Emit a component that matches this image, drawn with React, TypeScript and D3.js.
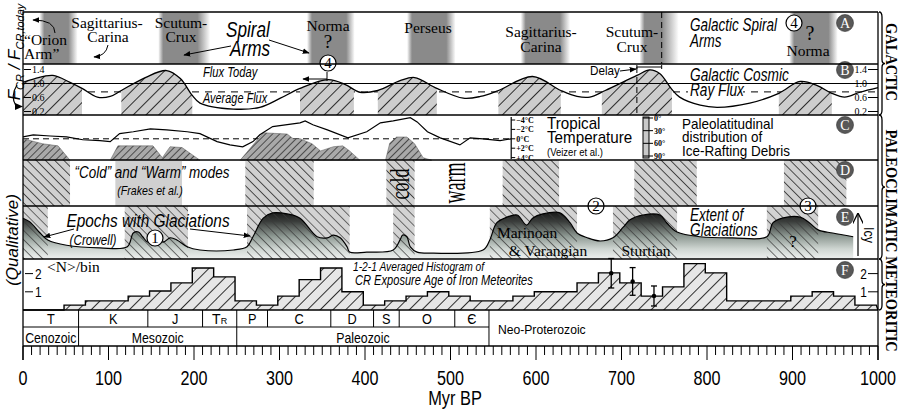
import React from 'react';
import * as d3 from 'd3';

const SANS = "'Liberation Sans', Arial, Helvetica, sans-serif";
const SERIF = "'Liberation Serif', 'Times New Roman', Times, serif";

// Spiral arm passages (Myr BP): dark core and fade-out edge
const armCoreStart = [25, 164, 338, 455, 588, 727, 902];
const armCoreEnd = [53, 204, 378, 495, 628, 747, 942];
const armFadeEnd = [64, 219, 388, 506, 640, 767, 953];

// Cosmic ray flux relative to today
const fluxAge = [0, 14, 35, 55, 69, 87, 102, 115, 143, 168, 184, 198, 207, 246, 277, 301, 324, 357, 377, 394, 415, 441, 458, 484, 515, 535, 556, 596, 629, 648, 663, 681, 718, 733, 745, 758, 768, 792, 812, 850, 884, 909, 929, 946, 961, 979, 1000];
const fluxValue = [1.03, 1.14, 1.23, 1.03, 0.86, 0.61, 0.63, 0.8, 1.17, 1.37, 1.14, 0.66, 0.44, 0.27, 0.32, 0.58, 0.86, 1.11, 0.97, 0.75, 0.8, 1.08, 1.17, 0.86, 0.58, 0.63, 0.8, 1.2, 0.8, 0.63, 0.61, 0.8, 1.23, 1.39, 1.28, 0.86, 0.61, 0.38, 0.32, 0.44, 0.72, 1.06, 0.94, 0.72, 0.61, 0.75, 0.88];
const fluxToday = 1.0;
const fluxAverage = 0.76;
const fluxTicks = [1.4, 1.0, 0.6, 0.2];
const highFluxStart = [0, 115, 324, 415, 556, 677, 884];
const highFluxEnd = [69, 198, 387, 484, 629, 759, 946];
const delayFrom = 718;
const delayTo = 747;

// Tropical temperature anomaly (deg C, positive = warmer)
const tempAge = [0, 12, 32, 51, 70, 90, 102, 113, 129, 149, 168, 192, 207, 227, 242, 257, 269, 277, 292, 309, 324, 330, 339, 356, 380, 402, 418, 433, 453, 461, 473, 488, 511, 523, 538, 558, 571];
const tempValue = [-0.4, -0.85, -0.6, -0.4, 0.2, 0.4, 0.6, -1.1, -1.5, -2.1, -1.9, -1.5, -1.1, 0.6, 1.3, 1.7, 0.6, -0.85, -2.6, -3.0, -3.4, -3.8, -3.0, -1.9, -0.2, -1.5, -3.4, -3.8, -4.5, -3.6, -1.5, -0.2, 1.3, -0.2, 0, 0.4, 0];
const tempTicks = [-4, -2, 0, 2, 4];

// Ice-rafted debris: outlines as [age, paleolatitude]; 100 = panel floor
const irdShapes: [number, number][][] = [
  [[0, 100], [0, 49], [23, 61], [41, 66], [55, 100]],
  [[102, 100], [111, 66], [152, 66], [163, 94], [172, 68], [186, 70], [207, 100]],
  [[254, 100], [281, 35], [309, 38], [316, 49], [324, 49], [338, 61], [348, 78], [363, 68], [374, 66], [382, 78], [394, 100]],
  [[424, 100], [429, 59], [437, 45], [449, 45], [458, 61], [468, 94], [478, 100]],
];
const latTicks = [0, 30, 60, 90];

// "Cold" climate modes (Frakes et al.)
const coldStart = [0, 260, 425, 561, 715, 890];
const coldEnd = [55, 340, 458, 627, 788, 963];
const coolStart = [108];
const coolEnd = [186];

// Epochs with glaciations (Crowell) and their extent
const glacStart = [0, 119, 262, 433, 546, 690, 870];
const glacEnd = [29, 193, 382, 458, 648, 765, 930];
const glacAge = [0, 8, 20, 29, 51, 90, 122, 129, 135, 140, 146, 152, 164, 172, 180, 192, 207, 246, 262, 269, 281, 292, 309, 324, 344, 356, 363, 371, 379, 382, 402, 433, 441, 444, 449, 453, 461, 480, 538, 546, 554, 566, 578, 589, 596, 608, 628, 640, 648, 660, 675, 690, 702, 710, 725, 745, 753, 765, 792, 830, 870, 877, 888, 909, 920, 930, 947, 971];
const glacExtent = [0.77, 0.7, 0.49, 0.36, 0.26, 0.21, 0.23, 0.49, 0.51, 0.42, 0.32, 0.42, 0.32, 0.4, 0.36, 0.23, 0.17, 0.17, 0.23, 0.42, 0.77, 0.87, 0.85, 0.77, 0.42, 0.4, 0.45, 0.4, 0.23, 0.13, 0.13, 0.17, 0.36, 0.45, 0.42, 0.23, 0.13, 0.11, 0.17, 0.36, 0.68, 0.79, 0.83, 0.64, 0.77, 0.85, 0.87, 0.68, 0.49, 0.4, 0.34, 0.4, 0.6, 0.74, 0.83, 0.83, 0.68, 0.51, 0.42, 0.4, 0.42, 0.68, 0.77, 0.79, 0.68, 0.55, 0.49, 0.42];

// 1-2-1 averaged histogram of iron meteorite exposure ages
const binWidth = 25;
const binStart = [-2, 23, 48, 73, 98, 123, 148, 173, 198, 223, 248, 273, 298, 323, 348, 373, 398, 423, 448, 473, 498, 523, 548, 573, 598, 623, 648, 673, 698, 723, 748, 773, 798, 823, 848, 873, 898, 923, 948, 973];
const binHeight = [0, 0, 0.27, 0.5, 0.5, 0.76, 1.04, 1.49, 2.31, 1.82, 0.5, 0.27, 0.76, 1.67, 2.31, 1.0, 0.27, 0.5, 0.76, 1.0, 0.76, 0.5, 0.5, 0.76, 1.0, 1.0, 1.49, 2.04, 1.49, 0.76, 1.27, 2.55, 2.04, 0.5, 0.5, 0.5, 0.76, 1.0, 0.76, 0.27];
const errAge = [688, 713, 738];
const errMid = [2.02, 1.57, 0.77];
const errHalf = [0.81, 0.76, 0.55];
const histTicks = [2, 1];

// Geologic time scale
const periodName = ['T', 'K', 'J', 'TR', 'P', 'C', 'D', 'S', 'O', '\u0404'];
const periodStart = [0, 65, 146, 210, 250, 286, 360, 410, 440, 505];
const periodEnd = [65, 146, 210, 250, 286, 360, 410, 440, 505, 545];
const eraName = ['Cenozoic', 'Mesozoic', 'Paleozoic'];
const eraStart = [0, 65, 250];
const eraEnd = [65, 250, 545];
const axisTicks = [0, 100, 200, 300, 400, 500, 600, 700, 800, 900, 1000];

type TxtProps = {
  x: number; y: number; size?: number; family?: string; anchor?: 'start' | 'middle' | 'end';
  italic?: boolean; bold?: boolean; sx?: number; sy?: number; rotate?: number; fill?: string;
  children: React.ReactNode;
};
function Txt({ x, y, size = 14, family = SANS, anchor = 'start', italic = false, bold = false, sx = 1, sy = 1, rotate = 0, fill = '#000', children }: TxtProps) {
  return (
    <text
      transform={`translate(${x},${y}) rotate(${rotate}) scale(${sx},${sy})`}
      fontSize={size}
      fontFamily={family}
      textAnchor={anchor}
      fontStyle={italic ? 'italic' : 'normal'}
      fontWeight={bold ? 'bold' : 'normal'}
      fill={fill}
    >
      {children}
    </text>
  );
}

function CircNum({ cx, cy, n }: { cx: number; cy: number; n: string }) {
  return (
    <g>
      <circle cx={cx} cy={cy} r={8} fill="#fff" stroke="#000" strokeWidth={1.2} />
      <text x={cx} y={cy + 5} fontSize={15} fontFamily={SERIF} textAnchor="middle">{n}</text>
    </g>
  );
}

function CircLetter({ cx, cy, l }: { cx: number; cy: number; l: string }) {
  return (
    <g>
      <circle cx={cx} cy={cy} r={8.5} fill="#585858" stroke="#333" strokeWidth={0.6} />
      <text x={cx} y={cy + 5} fontSize={14} fontFamily={SERIF} textAnchor="middle" fill="#fff">{l}</text>
    </g>
  );
}

function Brace({ x, y1, y2 }: { x: number; y1: number; y2: number }) {
  const m = (y1 + y2) / 2;
  const d = `M${x},${y1} Q${x + 3},${y1} ${x + 3},${y1 + 5} L${x + 3},${m - 4} Q${x + 3},${m} ${x + 6},${m} Q${x + 3},${m} ${x + 3},${m + 4} L${x + 3},${y2 - 5} Q${x + 3},${y2} ${x},${y2}`;
  return <path d={d} fill="none" stroke="#000" strokeWidth={1.3} />;
}

export default function App() {
  const x = d3.scaleLinear().domain([0, 1000]).range([23, 878]);
  const yFlux = d3.scaleLinear().domain([0.2, 1.4]).range([111.5, 69.5]);
  const yTemp = d3.scaleLinear().domain([-4, 4]).range([120, 157.6]);
  const yLat = d3.scaleLinear().domain([0, 90]).range([118, 156]);
  const yIce = d3.scaleLinear().domain([0, 1]).range([259, 206]);
  const yHist = d3.scaleLinear().domain([0, 2]).range([310, 273.6]);

  const Y = { top: 12, ab: 64, bc: 115, cd: 160, de: 206, ef: 259, fg: 310, pe: 327, bot: 346 };
  const X0 = x(0);
  const X1 = x(1000);

  type P = [number, number];
  const smooth = d3.curveCatmullRom.alpha(0.5);

  const fluxPts: P[] = fluxAge.map((a, i) => [a, fluxValue[i]]);
  const fluxLine = d3.line<P>().x(d => x(d[0])).y(d => yFlux(d[1])).curve(smooth);
  const fluxArea = d3.area<P>().x(d => x(d[0])).y0(Y.bc).y1(d => yFlux(d[1])).curve(smooth);

  const tempPts: P[] = tempAge.map((a, i) => [a, tempValue[i]]);
  const tempLine = d3.line<P>().x(d => x(d[0])).y(d => yTemp(d[1]));

  const irdLine = d3.line<P>().x(d => x(d[0])).y(d => yLat(d[1]));

  const glacPts: P[] = glacAge.map((a, i) => [a, glacExtent[i]]);
  const glacLine = d3.line<P>().x(d => x(d[0])).y(d => yIce(d[1])).curve(smooth);
  const glacArea = d3.area<P>().x(d => x(d[0])).y0(Y.ef).y1(d => yIce(d[1])).curve(smooth);

  const histPts: P[] = [[0, 0]];
  binStart.forEach((s, i) => {
    const a = Math.max(0, s);
    const b = Math.min(1000, s + binWidth);
    histPts.push([a, binHeight[i]], [b, binHeight[i]]);
  });
  histPts.push([1000, 0]);
  const histLine = d3.line<P>().x(d => x(d[0])).y(d => yHist(d[1]));

  const minorTicks = d3.range(0, 1001, 10);

  const tempLabel = (t: number) => (t < 0 ? `\u2212${-t}\u00b0C` : t > 0 ? `+${t}\u00b0C` : `0\u00b0C`);

  return (
    <svg width={908} height={414} style={{ position: 'absolute', left: 0, top: 0, background: '#fff' }}>
      <defs>
        <pattern id="hatchB" patternUnits="userSpaceOnUse" width={9} height={9} patternTransform="rotate(45)">
          <rect width={9} height={9} fill="#cdcdcd" />
          <line x1={4.5} y1={0} x2={4.5} y2={9} stroke="#1a1a1a" strokeWidth={0.9} />
        </pattern>
        <pattern id="hatchC" patternUnits="userSpaceOnUse" width={5} height={5} patternTransform="rotate(45)">
          <rect width={5} height={5} fill="#a9a9a9" />
          <line x1={2.5} y1={0} x2={2.5} y2={5} stroke="#222" strokeWidth={0.7} />
        </pattern>
        <pattern id="hatchD" patternUnits="userSpaceOnUse" width={6.5} height={6.5} patternTransform="rotate(-45)">
          <rect width={6.5} height={6.5} fill="#d0d0d0" />
          <line x1={3.25} y1={0} x2={3.25} y2={6.5} stroke="#2a2a2a" strokeWidth={0.8} />
        </pattern>
        <pattern id="hatchE" patternUnits="userSpaceOnUse" width={6.5} height={6.5} patternTransform="rotate(-45)">
          <line x1={3.25} y1={0} x2={3.25} y2={6.5} stroke="#3a3a3a" strokeWidth={0.7} />
        </pattern>
        <pattern id="hatchF" patternUnits="userSpaceOnUse" width={9} height={9} patternTransform="rotate(45)">
          <rect width={9} height={9} fill="#e6e6e6" />
          <line x1={4.5} y1={0} x2={4.5} y2={9} stroke="#1a1a1a" strokeWidth={0.9} />
        </pattern>
        <linearGradient id="iceGrad" gradientUnits="userSpaceOnUse" x1={0} y1={209} x2={0} y2={259}>
          <stop offset="0" stopColor="#0c0c0c" />
          <stop offset="0.25" stopColor="#3a3d3b" />
          <stop offset="0.55" stopColor="#8f9a94" />
          <stop offset="0.8" stopColor="#cfd6d2" />
          <stop offset="1" stopColor="#eef0ef" />
        </linearGradient>
        {armCoreStart.map((s, i) => {
          const a = x(s) - 5;
          const b = x(armFadeEnd[i]);
          const w = b - a;
          return (
            <linearGradient key={i} id={`arm${i}`} gradientUnits="userSpaceOnUse" x1={a} y1={0} x2={b} y2={0}>
              <stop offset="0" stopColor="#8a8a8a" stopOpacity={0} />
              <stop offset={(5 / w).toFixed(3)} stopColor="#8a8a8a" stopOpacity={1} />
              <stop offset={((x(armCoreEnd[i]) - a) / w).toFixed(3)} stopColor="#8a8a8a" stopOpacity={1} />
              <stop offset="1" stopColor="#8a8a8a" stopOpacity={0} />
            </linearGradient>
          );
        })}
        <clipPath id="clipHighFlux">
          {highFluxStart.map((s, i) => (
            <rect key={i} x={x(s)} y={Y.ab} width={x(highFluxEnd[i]) - x(s)} height={Y.bc - Y.ab} />
          ))}
        </clipPath>
        <marker id="ah" viewBox="0 0 10 10" refX={9} refY={5} markerWidth={7} markerHeight={7} orient="auto-start-reverse">
          <path d="M0,1 L10,5 L0,9 z" fill="#000" />
        </marker>
        <marker id="ahOpen" viewBox="0 0 10 10" refX={9} refY={5} markerWidth={9} markerHeight={9} orient="auto">
          <path d="M0,0 L10,5 L0,10" fill="none" stroke="#000" strokeWidth={1.2} />
        </marker>
      </defs>

      {/* Panel A: spiral arm crossings */}
      {armCoreStart.map((s, i) => (
        <rect key={i} x={x(s) - 5} y={Y.top} width={x(armFadeEnd[i]) - x(s) + 5} height={Y.ab - Y.top} fill={`url(#arm${i})`} />
      ))}
      <line x1={x(delayTo)} y1={Y.top} x2={x(delayTo)} y2={Y.ab} stroke="#000" strokeWidth={1} strokeDasharray="6,4" />

      <Txt x={24} y={45} family={SERIF} size={15.5}>{'\u201cOrion'}</Txt>
      <Txt x={24} y={59} family={SERIF} size={15.5}>{'Arm\u201d'}</Txt>
      <path d="M55,33 Q55,20 33,20" fill="none" stroke="#000" strokeWidth={1} markerEnd="url(#ah)" />
      <Txt x={107} y={28} family={SERIF} size={15.5} anchor="middle">Sagittarius-</Txt>
      <Txt x={108} y={42} family={SERIF} size={15.5} anchor="middle">Carina</Txt>
      <path d="M108,45 Q106,56 94,57" fill="none" stroke="#000" strokeWidth={1} markerEnd="url(#ah)" />
      <Txt x={181} y={28} family={SERIF} size={15.5} anchor="middle">Scutum-</Txt>
      <Txt x={181} y={42} family={SERIF} size={15.5} anchor="middle">Crux</Txt>
      <Txt x={248} y={37} size={22} italic sx={0.78} anchor="middle">Spiral</Txt>
      <Txt x={250} y={56} size={22} italic sx={0.78} anchor="middle">Arms</Txt>
      <line x1={231} y1={46} x2={184} y2={55} stroke="#000" strokeWidth={1} markerEnd="url(#ah)" />
      <line x1={269} y1={40} x2={309} y2={53} stroke="#000" strokeWidth={1} markerEnd="url(#ah)" />
      <Txt x={328} y={31} family={SERIF} size={15.5} anchor="middle">Norma</Txt>
      <Txt x={328} y={48} family={SERIF} size={19} anchor="middle">?</Txt>
      <Txt x={428} y={33} family={SERIF} size={15.5} anchor="middle">Perseus</Txt>
      <Txt x={541} y={37} family={SERIF} size={15.5} anchor="middle">Sagittarius-</Txt>
      <Txt x={541} y={52} family={SERIF} size={15.5} anchor="middle">Carina</Txt>
      <Txt x={632} y={37} family={SERIF} size={15.5} anchor="middle">Scutum-</Txt>
      <Txt x={632} y={52} family={SERIF} size={15.5} anchor="middle">Crux</Txt>
      <Txt x={690} y={31} size={18} italic sx={0.75}>Galactic Spiral</Txt>
      <Txt x={690} y={47} size={18} italic sx={0.75}>Arms</Txt>
      <CircNum cx={794} cy={23} n="4" />
      <Txt x={810} y={40} family={SERIF} size={20} anchor="middle">?</Txt>
      <Txt x={808} y={56} family={SERIF} size={15.5} anchor="middle">Norma</Txt>
      <CircLetter cx={845} cy={23} l="A" />

      {/* Panel B: cosmic ray flux */}
      <line x1={X0} y1={yFlux(fluxAverage)} x2={X1} y2={yFlux(fluxAverage)} stroke="#000" strokeWidth={1} strokeDasharray="7,6" />
      <path d={fluxArea(fluxPts) || ''} fill="url(#hatchB)" clipPath="url(#clipHighFlux)" />
      <line x1={X0} y1={yFlux(fluxToday)} x2={X1} y2={yFlux(fluxToday)} stroke="#000" strokeWidth={1} />
      <path d={fluxLine(fluxPts) || ''} fill="none" stroke="#000" strokeWidth={1.3} />
      <line x1={x(delayFrom)} y1={67} x2={x(delayFrom)} y2={Y.bc} stroke="#000" strokeWidth={1} strokeDasharray="6,4" />
      <line x1={x(delayFrom)} y1={67} x2={x(delayTo)} y2={67} stroke="#000" strokeWidth={1} />
      <line x1={x(delayFrom)} y1={65} x2={x(delayFrom)} y2={69} stroke="#000" strokeWidth={1} />
      <line x1={x(delayTo)} y1={65} x2={x(delayTo)} y2={69} stroke="#000" strokeWidth={1} />
      <Txt x={590} y={75} size={13} sx={0.9}>Delay</Txt>
      <line x1={620} y1={71} x2={636} y2={69} stroke="#000" strokeWidth={1} markerEnd="url(#ah)" />
      <Txt x={203} y={77} size={14} italic sx={0.8}>Flux Today</Txt>
      <Txt x={203} y={103} size={14} italic sx={0.78}>Average Flux</Txt>
      <rect x={688} y={84} width={55} height={14} fill="#fff" />
      <Txt x={690} y={81} size={19} italic sx={0.72}>Galactic Cosmic</Txt>
      <Txt x={690} y={96} size={19} italic sx={0.72}>Ray Flux</Txt>
      <line x1={327} y1={72} x2={327} y2={81} stroke="#000" strokeWidth={1} />
      <line x1={327} y1={79} x2={303} y2={79} stroke="#000" strokeWidth={1} markerEnd="url(#ah)" />
      <CircNum cx={328} cy={63} n="4" />
      <CircLetter cx={845} cy={70} l="B" />
      {fluxTicks.map(t => (
        <g key={t}>
          <line x1={X0 + 1} y1={yFlux(t)} x2={X0 + 8} y2={yFlux(t)} stroke="#000" strokeWidth={1} />
          <Txt x={X0 + 9} y={yFlux(t) + 3.5} family={SERIF} size={10}>{t.toFixed(1)}</Txt>
          <line x1={X1 - 10} y1={yFlux(t)} x2={X1} y2={yFlux(t)} stroke="#000" strokeWidth={1} />
          <Txt x={X1 - 11} y={yFlux(t) + 3.5} family={SERIF} size={10} anchor="end">{t.toFixed(1)}</Txt>
        </g>
      ))}

      {/* Panel C: tropical temperature and ice-rafted debris */}
      <line x1={X0} y1={yTemp(0)} x2={x(571)} y2={yTemp(0)} stroke="#000" strokeWidth={1} strokeDasharray="6,4" />
      {irdShapes.map((s, i) => (
        <path key={i} d={(irdLine(s) || '') + 'Z'} fill="url(#hatchC)" stroke="#555" strokeWidth={0.5} />
      ))}
      <path d={tempLine(tempPts) || ''} fill="none" stroke="#000" strokeWidth={1.2} />
      <line x1={x(571)} y1={117} x2={x(571)} y2={159} stroke="#000" strokeWidth={1.2} />
      {tempTicks.map(t => (
        <g key={t}>
          <line x1={x(571)} y1={yTemp(t)} x2={x(571) + 4} y2={yTemp(t)} stroke="#000" strokeWidth={1} />
          <Txt x={x(571) + 5} y={yTemp(t) + 3} family={SERIF} size={8} bold>{tempLabel(t)}</Txt>
        </g>
      ))}
      <Txt x={547} y={129} size={16} sx={0.95}>Tropical</Txt>
      <Txt x={547} y={143} size={16} sx={0.95}>Temperature</Txt>
      <Txt x={547} y={156} size={10} sx={0.95}>(Veizer et al.)</Txt>
      <rect x={643} y={117} width={6} height={41} fill="#c8c8c8" stroke="#000" strokeWidth={1} />
      {latTicks.map(l => (
        <g key={l}>
          <line x1={643} y1={yLat(l)} x2={653} y2={yLat(l)} stroke="#000" strokeWidth={1} />
          <Txt x={654} y={yLat(l) + 3} family={SERIF} size={8} bold>{`${l}\u00b0`}</Txt>
        </g>
      ))}
      <Txt x={682} y={129} size={15} sx={0.9}>Paleolatitudinal</Txt>
      <Txt x={682} y={142} size={15} sx={0.9}>distribution of</Txt>
      <Txt x={682} y={156} size={15} sx={0.9}>Ice-Rafting Debris</Txt>
      <CircLetter cx={845} cy={125} l="C" />

      {/* Panel D: cold and warm climate modes */}
      {coolStart.map((s, i) => (
        <rect key={i} x={x(s)} y={Y.cd} width={x(coolEnd[i]) - x(s)} height={Y.de - Y.cd} fill="#d0d0d0" />
      ))}
      {coldStart.map((s, i) => (
        <rect key={i} x={x(s)} y={Y.cd} width={x(coldEnd[i]) - x(s)} height={Y.de - Y.cd} fill="url(#hatchD)" />
      ))}
      <Txt x={152} y={178} size={17} italic sx={0.79} anchor="middle">{'\u201cCold\u201d and \u201cWarm\u201d modes'}</Txt>
      <Txt x={150} y={195} size={12.5} italic sx={0.85} anchor="middle">(Frakes et al.)</Txt>
      <Txt x={409} y={184} family={SERIF} size={18} rotate={-90} sy={1.5} anchor="middle">cold</Txt>
      <Txt x={465} y={183} family={SERIF} size={18} rotate={-90} sy={1.9} anchor="middle">warm</Txt>
      <CircLetter cx={845} cy={170} l="D" />

      {/* Panel E: glaciations */}
      {glacStart.map((s, i) => (
        <rect key={i} x={x(s)} y={Y.de} width={x(glacEnd[i]) - x(s)} height={Y.ef - Y.de} fill="#d3d3d3" />
      ))}
      <path d={glacArea(glacPts) || ''} fill="url(#iceGrad)" />
      {glacStart.map((s, i) => (
        <rect key={i} x={x(s)} y={Y.de} width={x(glacEnd[i]) - x(s)} height={Y.ef - Y.de} fill="url(#hatchE)" />
      ))}
      <path d={glacLine(glacPts) || ''} fill="none" stroke="#000" strokeWidth={1.2} />
      <Txt x={148} y={227} size={19} italic sx={0.81} anchor="middle">Epochs with Glaciations</Txt>
      <Txt x={93} y={245} size={14} italic sx={0.84} anchor="middle">(Crowell)</Txt>
      <line x1={74} y1={229} x2={44} y2={237} stroke="#000" strokeWidth={1} markerEnd="url(#ah)" />
      <line x1={190} y1={229} x2={250} y2={236} stroke="#000" strokeWidth={1} markerEnd="url(#ah)" />
      <CircNum cx={155} cy={238} n="1" />
      <Txt x={527} y={238} family={SERIF} size={15.5} anchor="middle">Marinoan</Txt>
      <Txt x={548} y={256} family={SERIF} size={15.5} anchor="middle">{'& Varangian'}</Txt>
      <Txt x={646} y={256} family={SERIF} size={15.5} anchor="middle">Sturtian</Txt>
      <Txt x={690} y={221} size={18} italic sx={0.75}>Extent of</Txt>
      <Txt x={690} y={236} size={18} italic sx={0.76}>Glaciations</Txt>
      <Txt x={793} y={247} family={SERIF} size={17} anchor="middle">?</Txt>
      <CircNum cx={596} cy={206} n="2" />
      <CircNum cx={808} cy={206} n="3" />
      <CircLetter cx={845} cy={217} l="E" />
      <line x1={858} y1={256} x2={858} y2={214} stroke="#000" strokeWidth={1.2} markerEnd="url(#ahOpen)" />
      <Txt x={864} y={235} size={14} rotate={90} anchor="middle" sx={0.9}>Icy</Txt>

      {/* Panel F: meteorite exposure age histogram */}
      <path d={(histLine(histPts) || '') + 'Z'} fill="url(#hatchF)" stroke="none" />
      <path d={histLine(histPts) || ''} fill="none" stroke="#000" strokeWidth={1.4} />
      {errAge.map((a, i) => (
        <g key={i} stroke="#000" strokeWidth={1.3}>
          <line x1={x(a)} y1={yHist(errMid[i] + errHalf[i])} x2={x(a)} y2={yHist(errMid[i] - errHalf[i])} />
          <line x1={x(a) - 3} y1={yHist(errMid[i] + errHalf[i])} x2={x(a) + 3} y2={yHist(errMid[i] + errHalf[i])} />
          <line x1={x(a) - 3} y1={yHist(errMid[i] - errHalf[i])} x2={x(a) + 3} y2={yHist(errMid[i] - errHalf[i])} />
          <circle cx={x(a)} cy={yHist(errMid[i])} r={1.6} fill="#000" />
        </g>
      ))}
      {histTicks.map(t => (
        <g key={t}>
          <line x1={X0 + 2} y1={yHist(t)} x2={X0 + 10} y2={yHist(t)} stroke="#000" strokeWidth={1} />
          <Txt x={X0 + 12} y={yHist(t) + 5} size={14} sx={0.85}>{String(t)}</Txt>
          <line x1={X1 - 10} y1={yHist(t)} x2={X1} y2={yHist(t)} stroke="#000" strokeWidth={1} />
          <Txt x={X1 - 11} y={yHist(t) + 5} size={14} sx={0.85} anchor="end">{String(t)}</Txt>
        </g>
      ))}
      <Txt x={47} y={272} family={SERIF} size={15.5}>{'<N>/bin'}</Txt>
      <Txt x={353} y={271} size={13} italic sx={0.79}>1-2-1 Averaged Histogram of</Txt>
      <Txt x={355} y={285} size={15} italic sx={0.74}>CR Exposure Age of Iron Meteorites</Txt>
      <CircLetter cx={845} cy={270} l="F" />

      {/* Geologic time scale */}
      {periodStart.map((s, i) => {
        const cx = (x(s) + x(periodEnd[i])) / 2;
        return (
          <g key={i}>
            <line x1={x(periodEnd[i])} y1={Y.fg} x2={x(periodEnd[i])} y2={Y.pe} stroke="#000" strokeWidth={1} />
            {periodName[i] === 'TR' ? (
              <text x={cx} y={324} fontSize={14} fontFamily={SANS} textAnchor="middle">
                T<tspan fontSize={9}>R</tspan>
              </text>
            ) : (
              <Txt x={cx} y={324} size={15} sx={0.85} anchor="middle">{periodName[i]}</Txt>
            )}
          </g>
        );
      })}
      {eraStart.map((s, i) => (
        <g key={i}>
          <line x1={x(eraEnd[i])} y1={Y.pe} x2={x(eraEnd[i])} y2={Y.bot} stroke="#000" strokeWidth={1} />
          <Txt x={(x(s) + x(eraEnd[i])) / 2} y={343} size={14.5} sx={0.85} anchor="middle">{eraName[i]}</Txt>
        </g>
      ))}
      <line x1={X0} y1={Y.pe} x2={x(545)} y2={Y.pe} stroke="#000" strokeWidth={1} />
      <Txt x={x(545) + 9} y={334} size={13.5} sx={0.9}>Neo-Proterozoic</Txt>

      {/* Panel frames */}
      {[Y.top, Y.ab, Y.bc, Y.cd, Y.de, Y.ef, Y.fg, Y.bot].map(yy => (
        <line key={yy} x1={X0} y1={yy} x2={X1} y2={yy} stroke="#000" strokeWidth={1.3} />
      ))}
      <line x1={X0} y1={Y.top} x2={X0} y2={360} stroke="#000" strokeWidth={1.3} />
      <line x1={X1} y1={Y.top} x2={X1} y2={360} stroke="#000" strokeWidth={1.3} />

      {/* Time axis */}
      {minorTicks.map(t => (
        <line key={t} x1={x(t)} y1={Y.bot} x2={x(t)} y2={t % 100 === 0 ? 360 : 355} stroke="#000" strokeWidth={1} />
      ))}
      {axisTicks.map(t => (
        <Txt key={t} x={x(t)} y={385} size={21} sx={0.77} anchor="middle">{String(t)}</Txt>
      ))}
      <Txt x={455} y={405} size={20} sx={0.82} anchor="middle">Myr BP</Txt>

      {/* Left axis titles */}
      <text transform="translate(20,52) rotate(-90)" fontSize={17} fontFamily={SANS} fontStyle="italic" textAnchor="middle">
        F<tspan fontSize={11} dy={4}>CR</tspan><tspan dy={-4}> / F</tspan><tspan fontSize={11} dy={4}>CR,today</tspan>
      </text>
      <path d="M17,85 Q10,96 16,106" fill="none" stroke="#000" strokeWidth={1.2} />
      <path d="M15,103 L23,106.5 L15,110 Z" fill="#000" />
      <Txt x={18} y={240} size={17} italic rotate={-90} anchor="middle">(Qualitative)</Txt>

      {/* Right group labels */}
      <Brace x={879} y1={Y.top} y2={Y.bc} />
      <Brace x={879} y1={Y.bc} y2={Y.ef} />
      <Brace x={879} y1={Y.ef} y2={Y.fg} />
      <Txt x={886} y={62} family={SERIF} size={17} bold rotate={90} sx={0.85} anchor="middle">GALACTIC</Txt>
      <Txt x={886} y={191} family={SERIF} size={17} bold rotate={90} sx={0.85} anchor="middle">PALEOCLIMATIC</Txt>
      <Txt x={886} y={304} family={SERIF} size={17} bold rotate={90} sx={0.85} anchor="middle">METEORITIC</Txt>
    </svg>
  );
}
